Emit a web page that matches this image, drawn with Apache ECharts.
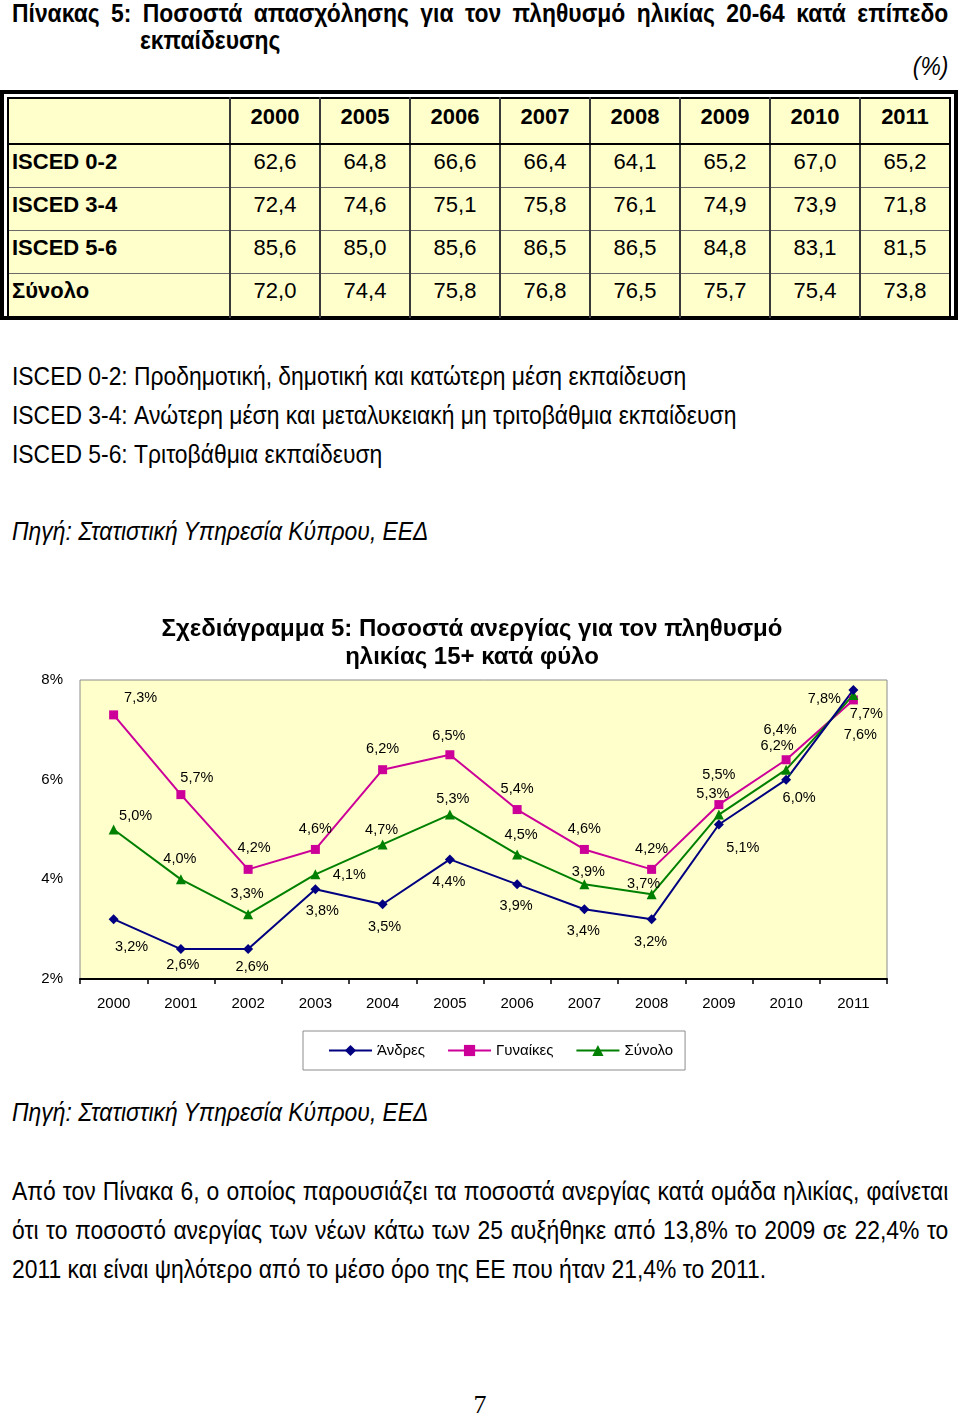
<!DOCTYPE html>
<html>
<head>
<meta charset="utf-8">
<script src="https://cdn.jsdelivr.net/npm/echarts@6/dist/echarts.min.js"></script>
<style>
  html, body { margin:0; padding:0; background:#ffffff; }
  body { width:960px; height:1416px; position:relative; overflow:hidden; font-family:"Liberation Sans", Arial, sans-serif; color:#000; }
  .narrow { position:absolute; left:12px; transform:scaleX(0.88); transform-origin:0 0; white-space:nowrap; }
  .just { text-align:justify; text-align-last:justify; white-space:normal; }
  #tblOuter { position:absolute; left:0; top:90px; width:950px; height:222px; border:4px solid #000; padding:0; }
  #tbl { position:absolute; left:3px; top:3px; width:940px; height:212px; border:2px solid #000; background:#FFFFCC; border-collapse:collapse; table-layout:fixed; }
  #tbl td { font-size:22px; padding:0 0 8px 0; text-align:center; border-left:2px solid #3a3a3a; border-top:1px solid #6a6a6a; height:34px; }
  #tbl td.lbl { text-align:left; padding-left:3px; font-weight:bold; border-left:none; }
  #tbl tr.hdr td { font-weight:bold; height:35px; padding-bottom:9px; border-top:none; border-bottom:2px solid #000; }
  #chart { position:absolute; left:0; top:590px; width:960px; height:500px; }
</style>
</head>
<body>
<div class="narrow just" style="top:0px;width:1064px;font-size:26px;font-weight:bold;line-height:27px;">Πίνακας 5: Ποσοστά απασχόλησης για τον πληθυσμό ηλικίας 20-64 κατά επίπεδο</div>
<div class="narrow" style="left:140px;top:27px;font-size:26px;font-weight:bold;line-height:27px;">εκπαίδευσης</div>
<div class="narrow" style="left:auto;right:12px;top:51px;font-size:26px;font-style:italic;line-height:30px;transform-origin:100% 0;">(%)</div>

<div id="tblOuter"><table id="tbl"></table></div>

<div class="narrow" id="n1" style="top:361px;font-size:26px;line-height:30px;"></div>
<div class="narrow" id="n2" style="top:400px;font-size:26px;line-height:30px;"></div>
<div class="narrow" id="n3" style="top:439px;font-size:26px;line-height:30px;"></div>
<div class="narrow" style="top:516px;font-size:26px;font-style:italic;line-height:30px;">Πηγή: Στατιστική Υπηρεσία Κύπρου, ΕΕΔ</div>

<div id="chart"></div>

<div class="narrow" style="top:1097px;font-size:26px;font-style:italic;line-height:30px;">Πηγή: Στατιστική Υπηρεσία Κύπρου, ΕΕΔ</div>
<div class="narrow just" style="top:1176px;width:1064px;font-size:26px;line-height:30px;">Από τον Πίνακα 6, ο οποίος παρουσιάζει τα ποσοστά ανεργίας κατά ομάδα ηλικίας, φαίνεται</div>
<div class="narrow just" style="top:1215px;width:1064px;font-size:26px;line-height:30px;">ότι το ποσοστό ανεργίας των νέων κάτω των 25 αυξήθηκε από 13,8% το 2009 σε 22,4% το</div>
<div class="narrow" style="top:1254px;font-size:26px;line-height:30px;">2011 και είναι ψηλότερο από το μέσο όρο της ΕΕ που ήταν 21,4% το 2011.</div>
<div style="position:absolute;left:0;width:960px;top:1392px;text-align:center;font-family:'Liberation Serif','Times New Roman',serif;font-size:26px;line-height:26px;">7</div>

<script>
// ---- Table data ----
const tableYears = ['2000','2005','2006','2007','2008','2009','2010','2011'];
const rowLabels = ['ISCED 0-2','ISCED 3-4','ISCED 5-6','Σύνολο'];
const isced02 = [62.6, 64.8, 66.6, 66.4, 64.1, 65.2, 67.0, 65.2];
const isced34 = [72.4, 74.6, 75.1, 75.8, 76.1, 74.9, 73.9, 71.8];
const isced56 = [85.6, 85.0, 85.6, 86.5, 86.5, 84.8, 83.1, 81.5];
const totalEmp = [72.0, 74.4, 75.8, 76.8, 76.5, 75.7, 75.4, 73.8];
const notes = [
  'ISCED 0-2: Προδημοτική, δημοτική και κατώτερη μέση εκπαίδευση',
  'ISCED 3-4: Ανώτερη μέση και μεταλυκειακή μη τριτοβάθμια εκπαίδευση',
  'ISCED 5-6: Τριτοβάθμια εκπαίδευση'
];

// ---- Chart data ----
const years = ['2000','2001','2002','2003','2004','2005','2006','2007','2008','2009','2010','2011'];
const men   = [3.2, 2.6, 2.6, 3.8, 3.5, 4.4, 3.9, 3.4, 3.2, 5.1, 6.0, 7.8];
const women = [7.3, 5.7, 4.2, 4.6, 6.2, 6.5, 5.4, 4.6, 4.2, 5.5, 6.4, 7.6];
const total = [5.0, 4.0, 3.3, 4.1, 4.7, 5.3, 4.5, 3.9, 3.7, 5.3, 6.2, 7.7];
const seriesNames = ['Άνδρες', 'Γυναίκες', 'Σύνολο'];

// label offsets (style only)
const menOff   = [[18,28],[2,16],[4,18],[7,22],[2,23],[-1,23],[-1,22],[-1,22],[-1,23],[24,23],[13,18],[-29,9]];
const womenOff = [[27,-17],[16,-17],[6,-21],[0,-20],[0,-21],[-1,-19],[0,-21],[0,-20],[0,-20],[0,-30],[-6,-30],[7,35]];
const totalOff = [[22,-14],[-1,-20],[-1,-20],[34,1],[-1,-14],[3,-16],[4,-19],[4,-12],[-8,-10],[-6,-21],[-9,-24],[13,19]];

// build table
const fmt = v => v.toFixed(1).replace('.', ',');
const tbl = document.getElementById('tbl');
let html = '<colgroup><col style="width:222px">' + tableYears.map(()=>'<col style="width:90px">').join('') + '</colgroup>';
html += '<tr class="hdr"><td class="lbl"></td>' + tableYears.map(y=>'<td>'+y+'</td>').join('') + '</tr>';
[isced02, isced34, isced56, totalEmp].forEach((row, i) => {
  html += '<tr><td class="lbl">' + rowLabels[i] + '</td>' + row.map(v=>'<td>'+fmt(v)+'</td>').join('') + '</tr>';
});
tbl.innerHTML = html;
document.getElementById('n1').textContent = notes[0];
document.getElementById('n2').textContent = notes[1];
document.getElementById('n3').textContent = notes[2];

// chart
const FF = 'Liberation Sans, Arial, sans-serif';
const chart = echarts.init(document.getElementById('chart'), null, {renderer:'canvas'});
const mk = (name, vals, offs, color, symbol, size) => ({
  name, type:'line', data: vals.map((v,i)=>({value:v, label:{offset:offs[i]}})),
  symbol, symbolSize:size, color,
  lineStyle:{color, width:2}, itemStyle:{color},
  label:{show:true, position:'inside', align:'center', verticalAlign:'middle', color:'#000', fontSize:14.5,
         fontFamily:FF, formatter:p=>fmt(p.value)+'%'},
  emphasis:{disabled:true}, animation:false
});
chart.setOption({
  animation:false,
  title:{text:'Σχεδιάγραμμα 5: Ποσοστά ανεργίας για τον πληθυσμό\nηλικίας 15+ κατά φύλο', left:472, top:25, textAlign:'center', padding:0,
    textStyle:{fontSize:24, fontWeight:'bold', lineHeight:28, color:'#000', fontFamily:FF}},
  grid:{left:80, top:90, width:807, height:299, show:true, backgroundColor:'#FFFFCC', borderColor:'#8c8c8c', borderWidth:1},
  legend:{left:303, top:441, padding:[12,12,12,25], itemWidth:43, itemHeight:14, itemGap:22,
    borderColor:'#8c8c8c', borderWidth:1, backgroundColor:'#fff',
    textStyle:{fontSize:15, color:'#000', fontFamily:FF}, data:seriesNames},
  xAxis:{type:'category', data:years, boundaryGap:true,
    axisLine:{lineStyle:{color:'#000', width:2}}, axisTick:{show:true, length:5, lineStyle:{color:'#000', width:1.5}},
    axisLabel:{margin:17, fontSize:15, color:'#000', fontFamily:FF}},
  yAxis:{type:'value', min:2, max:8, interval:2, axisLine:{show:false}, axisTick:{show:false}, splitLine:{show:false},
    axisLabel:{margin:17, fontSize:15, color:'#000', fontFamily:FF, formatter:'{value}%'}},
  series:[
    mk(seriesNames[1], women, womenOff, '#CC0099', 'rect', 9),
    mk(seriesNames[2], total, totalOff, '#008000', 'triangle', 10),
    mk(seriesNames[0], men, menOff, '#000080', 'diamond', 10)
  ]
});
</script>
</body>
</html>
